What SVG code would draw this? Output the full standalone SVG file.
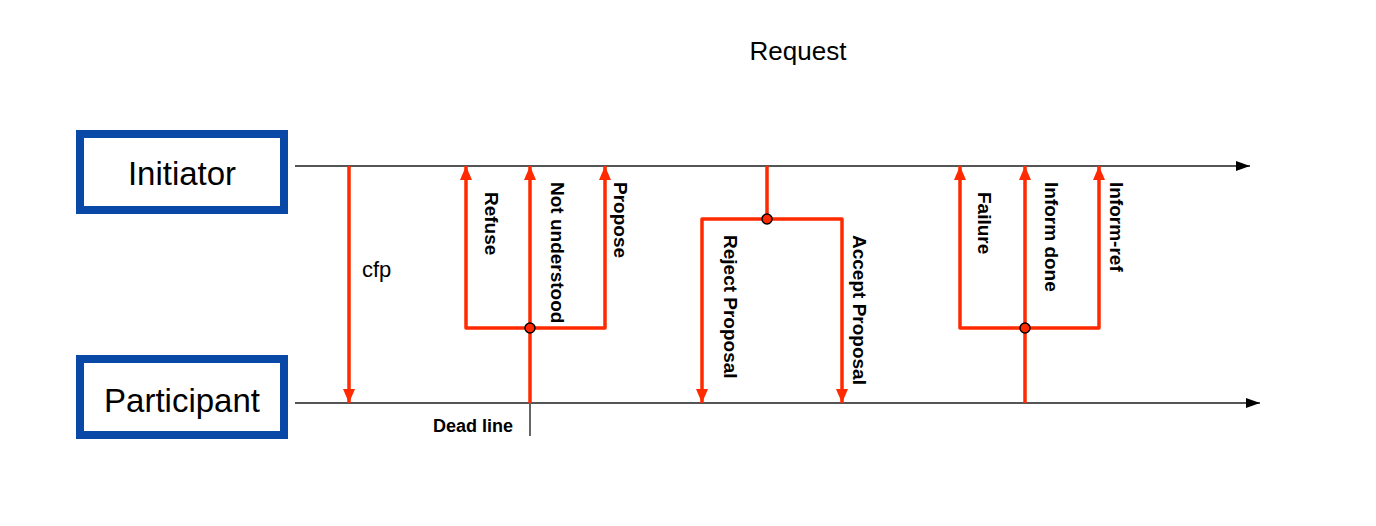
<svg xmlns="http://www.w3.org/2000/svg" width="1376" height="526" viewBox="0 0 1376 526">
<defs>
<style>
.box{fill:#fff;stroke:#0a48a8;stroke-width:8}
.big{font-family:"Liberation Sans",Arial,sans-serif;font-size:33px;fill:#000}
.lbl{font-family:"Liberation Sans",Arial,sans-serif;font-size:18px;font-weight:bold;fill:#000}
.vl{font-size:19px}
.axis{stroke:#555;stroke-width:2;fill:none}
.msg{stroke:#ff2a00;stroke-width:3.5;fill:none;stroke-linejoin:round}
.dot{fill:#ff2a00;stroke:#000;stroke-width:1.5}
</style>
<marker id="ah" viewBox="0 0 14 10" refX="14" refY="5" markerWidth="14" markerHeight="10" markerUnits="userSpaceOnUse" orient="auto">
<path d="M0,0 L14,5 L0,10 z" fill="#000"/>
</marker>
<marker id="rh" viewBox="0 0 14 12" refX="14" refY="6" markerWidth="14" markerHeight="12" markerUnits="userSpaceOnUse" orient="auto">
<path d="M0,0 L14,6 L0,12 z" fill="#ff2a00"/>
</marker>
</defs>
<rect width="1376" height="526" fill="#fff"/>
<text x="798" y="60" text-anchor="middle" font-family="Liberation Sans, Arial, sans-serif" font-size="26" fill="#000">Request</text>
<g id="initiator">
<rect class="box" x="80" y="134" width="204" height="76"/>
<text class="big" x="182" y="185" text-anchor="middle">Initiator</text>
</g>
<g id="participant">
<rect class="box" x="80" y="359" width="204" height="76"/>
<text class="big" x="182" y="412" text-anchor="middle">Participant</text>
</g>
<g id="connectors">
<line class="axis" x1="295" y1="166" x2="1250" y2="166" marker-end="url(#ah)"/>
<line class="axis" x1="295" y1="403" x2="1260" y2="403" marker-end="url(#ah)"/>
<line x1="530" y1="403" x2="530" y2="436" stroke="#666" stroke-width="2"/>
<line class="msg" x1="349" y1="166" x2="349" y2="403" marker-end="url(#rh)"/>
<line class="msg" x1="530" y1="403" x2="530" y2="166" marker-end="url(#rh)"/>
<polyline class="msg" points="530,328 466,328 466,166" marker-end="url(#rh)"/>
<polyline class="msg" points="530,328 605,328 605,166" marker-end="url(#rh)"/>
<circle class="dot" cx="530" cy="328" r="5"/>
<line class="msg" x1="767" y1="166" x2="767" y2="219"/>
<polyline class="msg" points="767,219 702,219 702,403" marker-end="url(#rh)"/>
<polyline class="msg" points="767,219 842,219 842,403" marker-end="url(#rh)"/>
<circle class="dot" cx="767" cy="219" r="5"/>
<line class="msg" x1="1025" y1="403" x2="1025" y2="166" marker-end="url(#rh)"/>
<polyline class="msg" points="1025,328 960,328 960,166" marker-end="url(#rh)"/>
<polyline class="msg" points="1025,328 1099,328 1099,166" marker-end="url(#rh)"/>
<circle class="dot" cx="1025" cy="328" r="5"/>
</g>
<text x="362" y="277" font-family="Liberation Sans, Arial, sans-serif" font-size="22" fill="#000">cfp</text>
<text class="lbl" x="433" y="432">Dead line</text>
<text class="lbl vl" transform="translate(485,192) rotate(90)">Refuse</text>
<text class="lbl vl" transform="translate(551,182) rotate(90)">Not understood</text>
<text class="lbl vl" transform="translate(614,182) rotate(90)">Propose</text>
<text class="lbl vl" transform="translate(724,235) rotate(90)">Reject Proposal</text>
<text class="lbl vl" transform="translate(853,235) rotate(90)">Accept Proposal</text>
<text class="lbl vl" transform="translate(978,192) rotate(90)">Failure</text>
<text class="lbl vl" transform="translate(1045,182) rotate(90)">Inform done</text>
<text class="lbl vl" transform="translate(1110,182) rotate(90)">Inform-ref</text>
</svg>
